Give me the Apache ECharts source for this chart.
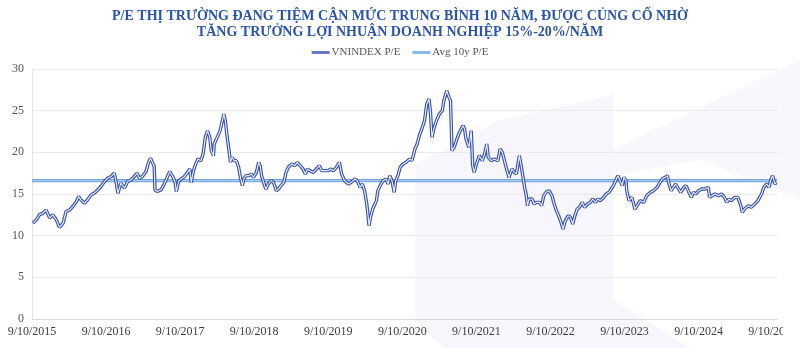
<!DOCTYPE html>
<html>
<head>
<meta charset="utf-8">
<script src="https://cdn.jsdelivr.net/npm/echarts@6/dist/echarts.min.js"></script>
<style>
  html, body { margin: 0; padding: 0; background: #ffffff; }
  #chart { width: 800px; height: 348px; }
</style>
</head>
<body>
<div id="chart"></div>
<script>
// Time in years since 9/10/2015
const yearsSinceStart = [
  0.01,0.06,0.10,0.15,0.19,0.24,0.28,0.33,0.37,0.42,0.46,0.51,0.55,0.60,0.63,0.66,0.71,0.75,0.80,0.84,
  0.89,0.93,0.98,1.02,1.07,1.11,1.13,1.16,1.20,1.25,1.29,1.34,1.38,1.42,1.45,1.49,1.54,1.57,1.60,1.63,
  1.65,1.66,1.69,1.74,1.78,1.83,1.86,1.90,1.93,1.95,1.98,
  2.01,2.05,2.10,2.13,2.15,2.18,2.21,2.24,2.28,2.31,2.34,2.37,2.40,2.42,2.45,2.46,2.50,2.54,2.57,2.59,
  2.61,2.63,2.66,2.68,2.70,2.73,2.76,2.79,2.81,2.84,2.86,2.89,2.93,2.96,2.99,3.03,3.06,3.08,3.10,3.14,
  3.16,3.19,3.23,3.26,3.30,3.33,3.36,3.40,3.43,3.46,3.51,3.55,3.58,3.62,3.66,3.69,3.72,3.75,3.80,3.84,
  3.88,3.91,3.96,4.00,
  4.03,4.07,4.11,4.15,4.18,4.22,4.27,4.31,4.36,4.39,4.43,4.46,4.49,4.52,4.54,4.55,4.57,4.60,4.63,4.65,
  4.67,4.70,4.74,4.78,4.81,4.83,4.86,4.89,4.91,4.94,4.97,5.01,5.05,5.10,5.13,5.17,5.20,5.23,5.27,5.30,
  5.33,5.36,5.38,5.40,5.43,5.47,5.50,5.54,5.56,5.58,5.60,5.63,5.65,5.66,5.67,5.70,5.73,5.77,5.82,5.84,
  5.86,5.90,5.93,5.95,5.97,6.00,
  6.04,6.08,6.11,6.14,6.16,6.20,6.24,6.29,6.32,6.35,6.39,6.42,6.44,6.48,6.51,6.54,6.58,6.60,6.63,6.65,
  6.67,6.69,6.71,6.75,6.78,6.81,6.85,6.88,6.91,6.94,6.98,7.02,7.05,7.08,7.11,7.15,7.17,7.20,7.24,7.27,
  7.30,7.33,7.36,7.39,7.43,7.46,7.50,7.54,7.57,7.61,7.64,7.67,7.72,7.75,7.79,7.82,7.85,7.89,7.91,7.94,
  7.97,7.99,8.02,
  8.03,8.06,8.10,8.14,8.17,8.21,8.26,8.30,8.35,8.39,8.44,8.48,8.51,8.55,8.58,8.60,8.63,8.66,8.69,8.73,
  8.76,8.80,8.83,8.86,8.90,8.93,8.96,9.00,9.04,9.09,9.13,9.15,9.18,9.22,9.27,9.31,9.35,9.38,9.41,9.44,
  9.49,9.53,9.57,9.59,9.62,9.67,9.71,9.76,9.80,9.85,9.88,9.92,9.95,9.98,10.00,10.03,10.05
];

// VNINDEX trailing P/E
const vnindexPE = [
  11.5,11.9,12.5,12.7,13.1,12.1,12.5,11.9,11.0,11.5,12.9,13.1,13.5,14.1,14.7,14.3,13.9,14.3,14.9,15.1,
  15.5,15.9,16.5,16.9,17.1,17.5,16.7,15.1,16.3,15.7,16.5,16.7,17.1,17.5,16.9,17.1,17.7,18.7,19.3,18.7,
  18.3,15.5,15.3,15.5,16.1,17.1,17.7,17.1,16.5,15.3,16.5,
  16.8,17.0,17.6,18.0,16.4,17.8,18.6,19.2,19.0,19.8,21.8,22.6,21.8,20.2,19.6,21.0,21.8,22.6,23.8,24.6,
  23.8,22.2,20.2,18.8,19.4,19.0,19.0,18.2,17.2,16.0,16.8,17.2,17.2,17.4,17.0,17.6,18.8,18.4,17.2,16.0,
  15.6,16.2,16.6,16.4,15.4,15.6,16.0,16.4,17.6,18.2,18.6,18.4,18.8,18.4,18.0,17.4,18.0,17.8,17.6,18.0,
  18.4,17.8,17.8,17.8,
  18.0,17.8,18.2,18.8,17.4,16.6,16.2,16.4,16.8,16.6,15.8,16.2,15.4,13.8,12.2,11.2,12.2,13.2,13.8,14.2,
  15.4,16.0,16.6,16.8,16.2,17.2,16.6,15.2,16.6,17.2,18.2,18.6,18.8,19.2,19.0,20.4,21.0,22.0,23.0,23.8,
  25.8,26.4,24.8,21.8,23.0,24.0,24.6,25.0,26.2,26.8,27.4,26.6,26.2,23.4,20.2,20.6,21.4,22.4,23.2,22.8,
  21.6,20.6,22.6,18.4,17.6,18.6,
  19.6,19.0,19.8,21.0,19.4,19.0,19.2,19.0,20.4,20.0,18.6,17.6,17.0,18.0,17.6,17.4,19.6,18.6,17.0,15.8,
  15.0,13.6,14.4,14.4,13.8,14.0,14.0,13.6,14.8,15.2,15.4,14.8,13.8,13.0,12.4,11.4,10.8,11.8,12.4,12.2,
  11.4,12.4,13.2,13.4,14.0,13.4,13.8,14.0,14.4,14.0,14.4,14.2,14.6,15.0,15.2,15.6,16.0,16.8,17.2,16.6,
  16.0,17.0,16.6,
  15.4,14.2,14.6,13.2,13.6,14.2,14.0,14.8,15.2,15.4,15.8,16.4,16.8,17.0,17.2,16.2,15.4,15.8,16.2,15.6,
  15.2,15.8,16.0,15.4,14.6,15.2,15.0,15.4,15.6,15.6,15.8,14.6,14.8,15.0,14.8,15.0,14.6,14.0,14.4,14.2,
  14.6,14.6,13.6,12.8,13.2,13.6,13.4,13.8,14.2,15.0,15.8,16.2,15.8,16.8,17.2,16.2,16.4
];

// 10-year average P/E
const avg10yPE = 16.6;

// Axis tick labels, one per year
const yearLabels = [
  '9/10/2015','9/10/2016','9/10/2017','9/10/2018','9/10/2019','9/10/2020',
  '9/10/2021','9/10/2022','9/10/2023','9/10/2024','9/10/2025'
];

const titleLines = [
  'P/E THỊ TRƯỜNG ĐANG TIỆM CẬN MỨC TRUNG BÌNH 10 NĂM, ĐƯỢC CỦNG CỐ NHỜ',
  'TĂNG TRƯỞNG LỢI NHUẬN DOANH NGHIỆP 15%-20%/NĂM'
];

const xMax = 10.06;
const peSeries = yearsSinceStart.map((t, i) => [t, vnindexPE[i]]);
const avgSeries = [[0, avg10yPE], [xMax, avg10yPE]];

const chart = echarts.init(document.getElementById('chart'), null, { renderer: 'canvas' });
const serif = '"Liberation Serif", "DejaVu Serif", serif';

chart.setOption({
  backgroundColor: '#ffffff',
  animation: false,
  graphic: [
    // faint background watermark shapes
    { type: 'polygon', silent: true, z: -10,
      shape: { points: [[415,165],[500,120],[613,95],[613,300],[690,348],[444,348],[415,320]] },
      style: { fill: '#f7f6fc' } },
    { type: 'polygon', silent: true, z: -10,
      shape: { points: [[613,150],[800,60],[800,200],[700,160],[613,175]] },
      style: { fill: '#f8f7fc' } },
    // the canvas edge trims the last date label
    { type: 'rect', silent: true, z: 100,
      shape: { x: 783, y: 322, width: 17, height: 26 },
      style: { fill: '#ffffff' } }
  ],
  title: {
    text: titleLines.join('\n'),
    left: 'center',
    top: 3,
    textStyle: {
      fontFamily: serif,
      fontSize: 14,
      fontWeight: 'bold',
      color: '#2a55a8',
      lineHeight: 16
    }
  },
  legend: {
    top: 42,
    left: 'center',
    itemWidth: 18,
    itemHeight: 3,
    itemGap: 12,
    icon: 'rect',
    textStyle: { fontFamily: serif, fontSize: 11, color: '#595959', padding: [0, 0, 0, -3] },
    data: [
      { name: 'VNINDEX P/E', itemStyle: { color: '#6b78c4' } },
      { name: 'Avg 10y P/E', itemStyle: { color: '#8dbbe9' } }
    ]
  },
  grid: { left: 32, right: 20, top: 69, bottom: 29, containLabel: false },
  xAxis: {
    type: 'value',
    min: 0,
    max: xMax,
    interval: 1,
    axisLine: { show: true, lineStyle: { color: '#d9d9d9', width: 1 } },
    axisTick: { show: false },
    splitLine: { show: false },
    axisLabel: {
      margin: 7,
      fontFamily: serif,
      fontSize: 12,
      color: '#404040',
      showMaxLabel: false,
      formatter: v => {
        const i = Math.round(v);
        return Math.abs(v - i) < 1e-6 && yearLabels[i] ? yearLabels[i] : '';
      }
    }
  },
  yAxis: {
    type: 'value',
    min: 0,
    max: 30,
    interval: 5,
    axisLine: { show: true, lineStyle: { color: '#e3e3e3', width: 1 } },
    axisTick: { show: false },
    splitLine: { lineStyle: { color: '#ebebeb', width: 1 } },
    axisLabel: { margin: 8, fontFamily: serif, fontSize: 12, color: '#595959' }
  },
  series: [
    {
      name: 'Avg 10y P/E',
      type: 'line',
      data: avgSeries,
      symbol: 'none',
      lineStyle: { color: '#6fa3d9', width: 3.2 },
      itemStyle: { color: '#8dbbe9' },
      z: 2
    },
    {
      name: 'avg-core',
      type: 'line',
      data: avgSeries,
      symbol: 'none',
      lineStyle: { color: '#b9d5f2', width: 1 },
      silent: true,
      z: 3
    },
    {
      name: 'VNINDEX P/E',
      type: 'line',
      data: peSeries,
      symbol: 'none',
      lineStyle: { color: '#3a54ad', width: 3.4 },
      itemStyle: { color: '#6b78c4' },
      z: 4
    },
    {
      name: 'pe-core',
      type: 'line',
      data: peSeries,
      symbol: 'none',
      lineStyle: { color: '#eef1fa', width: 1.1 },
      silent: true,
      z: 5
    }
  ]
});
</script>
</body>
</html>
